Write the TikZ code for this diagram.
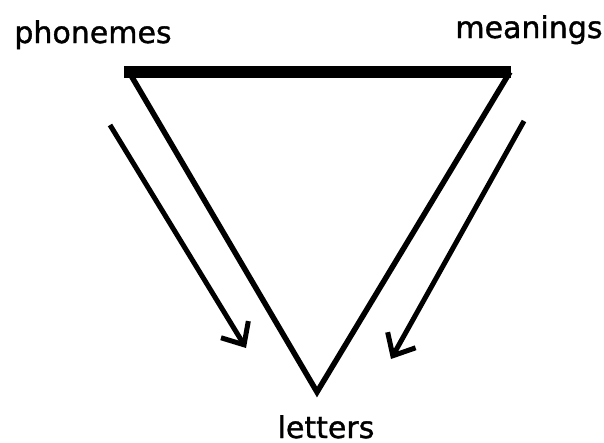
\documentclass[tikz,border=0pt]{standalone}
\usepackage{fontspec}
\setmainfont{DejaVu Sans}[BoldFont=DejaVu Sans, BoldFeatures={FakeBold=1.2}]
\usetikzlibrary{arrows.meta}

\begin{document}
\begin{tikzpicture}[x=1pt, y=-1pt,
  lbl/.style={font=\fontsize{30}{36}\selectfont\bfseries, inner sep=0pt, anchor=base},
  side/.style={line width=5.5pt, line join=miter},
  bar/.style={line width=12pt},
  e/.style={-{Straight Barb[length=18pt, width=32pt]}, line width=5pt}]
  \useasboundingbox (0,0) rectangle (604,442);
  \node[lbl] (ph) at (93,43)   {phonemes};
  \node[lbl] (me) at (529,38)  {meanings};
  \node[lbl] (le) at (326,438) {letters};
  \coordinate (tl) at (129,72);
  \coordinate (tr) at (510,72);
  \coordinate (bt) at (317,392);
  \coordinate (bl) at (124,71.5);
  \coordinate (br) at (511,71.5);
  \coordinate (a1) at (110,125);
  \coordinate (a2) at (246,348);
  \coordinate (b1) at (524,121);
  \coordinate (b2) at (391,359);
  \draw[side] (tl) -- (bt) -- (tr);
  \draw[bar] (bl) -- (br);
  \draw[e] (a1) -- (a2);
  \draw[e] (b1) -- (b2);
\end{tikzpicture}
\end{document}
